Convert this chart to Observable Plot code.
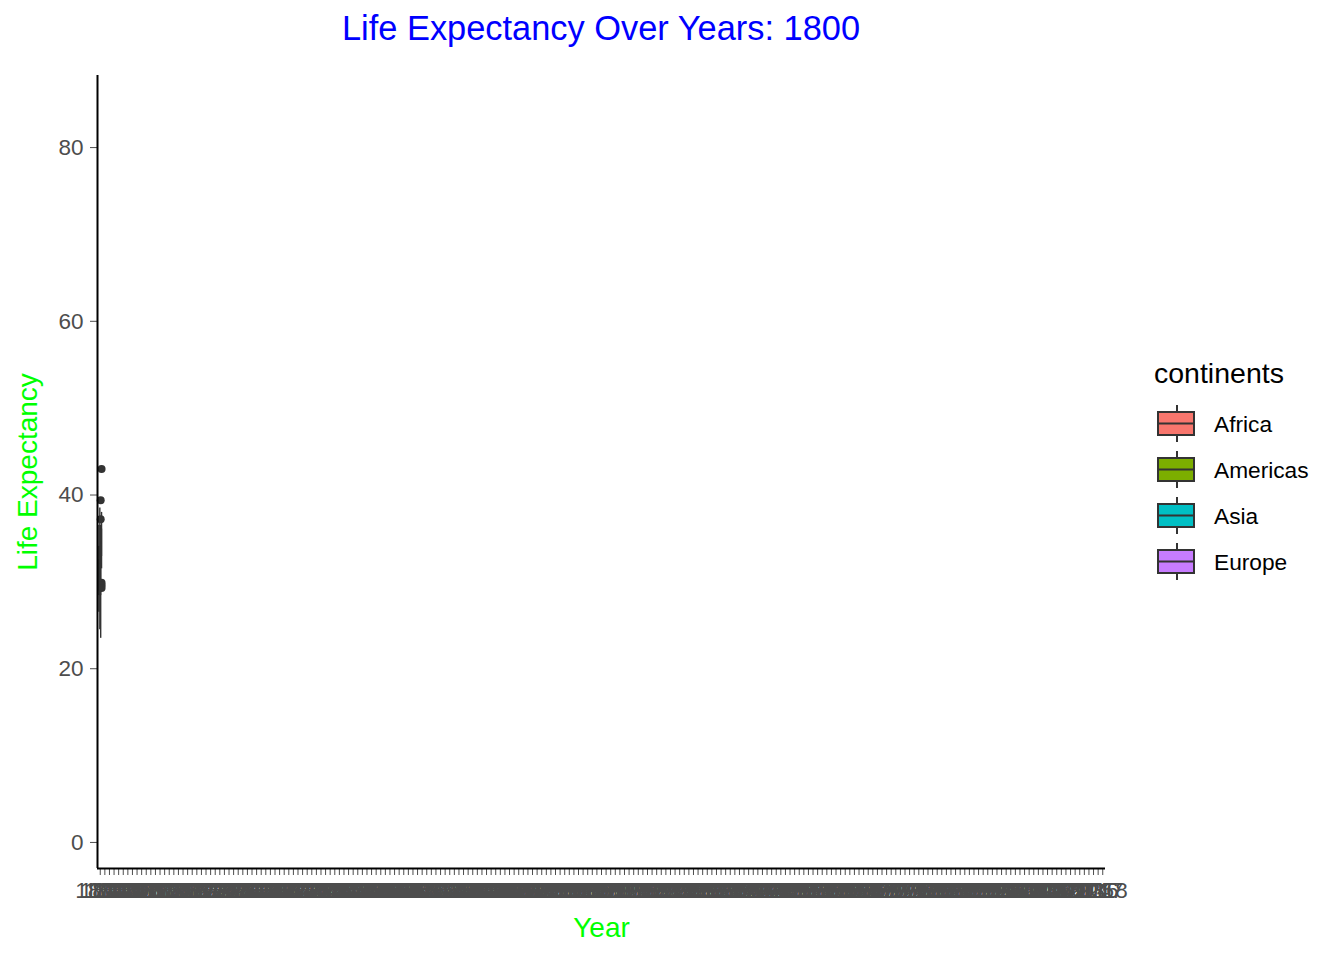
<!DOCTYPE html>
<html>
<head>
<meta charset="utf-8">
<script src="https://cdn.jsdelivr.net/npm/d3@7"></script>
<script src="https://cdn.jsdelivr.net/npm/@observablehq/plot@0.6"></script>
<style>
  body { margin: 0; background: #fff; font-family: "Liberation Sans", Arial, sans-serif; }
  #wrap { position: relative; width: 1344px; height: 960px; }
  #title { height: 56px; width: 1202px; text-align: center; color: #0000FF;
           font-size: 34.4px; line-height: 1; padding-top: 11px; box-sizing: border-box; }
  #legend { position: absolute; left: 1140px; top: 350px; }
</style>
</head>
<body>
<div id="wrap">
  <div id="title">Life Expectancy Over Years: 1800</div>
  <div id="chart"></div>
  <div id="legend"></div>
</div>
<script>
// categories on the x axis (one per year, only 1800 has data in this frame)
const firstYear = 1800;
const lastYear = 2018;
const years = d3.range(firstYear, lastYear + 1);
const yTicks = [0, 20, 40, 60, 80];

const continents = ["Africa", "Americas", "Asia", "Europe"];
const continentColors = ["#F8766D", "#7CAE00", "#00BFC4", "#C77CFF"];

// box stats for 1800, per continent
const boxYear = 1800;
const whiskerLow = [26.5, 24.5, 23.5, 31.5];
const lowerQuartile = [29.5, 28.5, 28.5, 33.0];
const medians = [30.8, 31.5, 30.5, 34.5];
const upperQuartile = [32.5, 34.0, 32.0, 36.0];
const whiskerHigh = [36.5, 38.5, 36.5, 38.0];

const outlierContinent = ["Asia", "Asia", "Europe", "Europe", "Europe", "Europe"];
const outlierValue = [37.2, 39.4, 43.0, 29.9, 29.6, 29.3];

// ggplot-style dodge: width 0.75 split in 4
const dodgeWidth = 0.75 / continents.length;
const offsetOf = c => (continents.indexOf(c) - (continents.length - 1) / 2) * dodgeWidth;

const boxes = continents.map((c, i) => ({
  continent: c,
  x: boxYear + offsetOf(c),
  lo: whiskerLow[i], q1: lowerQuartile[i], med: medians[i],
  q3: upperQuartile[i], hi: whiskerHigh[i]
}));
const outliers = outlierValue.map((v, i) => ({
  continent: outlierContinent[i],
  x: boxYear + offsetOf(outlierContinent[i]),
  value: v
}));

const xDomain = [firstYear - 0.6, lastYear + 0.6];
const yDomain = [-3.0, 88.3];
const half = dodgeWidth / 2;

const chart = Plot.plot({
  width: 1344,
  height: 904,
  marginLeft: 97,
  marginRight: 239,
  marginTop: 19,
  marginBottom: 92,
  style: { fontFamily: "Liberation Sans, Arial, sans-serif", background: "white", overflow: "visible" },
  x: { domain: xDomain, label: null },
  y: { domain: yDomain, label: null },
  color: { domain: continents, range: continentColors },
  marks: [
    Plot.axisY({ ticks: yTicks, tickSize: 7, tickPadding: 7, fontSize: 22.5, color: "#4D4D4D", label: null }),
    Plot.axisX({ ticks: years, tickFormat: d => String(d), tickSize: 7, tickPadding: 7,
                 fontSize: 22.5, color: "#4D4D4D", label: null }),
    Plot.ruleX(boxes, { x: "x", y1: "lo", y2: "hi", stroke: "#333333", strokeWidth: 1.4 }),
    Plot.rect(boxes, { x1: d => d.x - half, x2: d => d.x + half, y1: "q1", y2: "q3",
                       fill: "continent", stroke: "#333333", strokeWidth: 1.4 }),
    Plot.ruleY(boxes, { y: "med", x1: d => d.x - half, x2: d => d.x + half, stroke: "#333333", strokeWidth: 2 }),
    Plot.dot(outliers, { x: "x", y: "value", r: 4, fill: "#333333", stroke: null }),
    Plot.ruleX([xDomain[0]], { stroke: "black", strokeWidth: 2 }),
    Plot.ruleY([yDomain[0]], { stroke: "black", strokeWidth: 2 }),
    Plot.text(["Life Expectancy"], { frameAnchor: "left", dx: -69, rotate: -90, textAnchor: "middle",
                                      fill: "#00FF00", fontSize: 28 }),
    Plot.text(["Year"], { frameAnchor: "bottom", dy: 68, fill: "#00FF00", fontSize: 28 })
  ]
});
document.getElementById("chart").appendChild(chart);

// legend
const keyRows = continents.map((c, i) => {
  const cy = 73.5 + 46 * i;
  return `
    <line x1="37" x2="37" y1="${cy - 18.5}" y2="${cy + 18.5}" stroke="#333333" stroke-width="2"/>
    <rect x="18" y="${cy - 11.5}" width="36" height="23" fill="${continentColors[i]}" stroke="#333333" stroke-width="2"/>
    <line x1="18" x2="54" y1="${cy}" y2="${cy}" stroke="#333333" stroke-width="2"/>
    <text x="74" y="${cy + 8.5}" font-size="22.7" fill="black">${c}</text>`;
}).join("");
document.getElementById("legend").innerHTML = `
  <svg width="200" height="250" font-family="Liberation Sans, Arial, sans-serif">
    <text x="14" y="33" font-size="28.5" fill="black">continents</text>
    ${keyRows}
  </svg>`;
</script>
</body>
</html>
